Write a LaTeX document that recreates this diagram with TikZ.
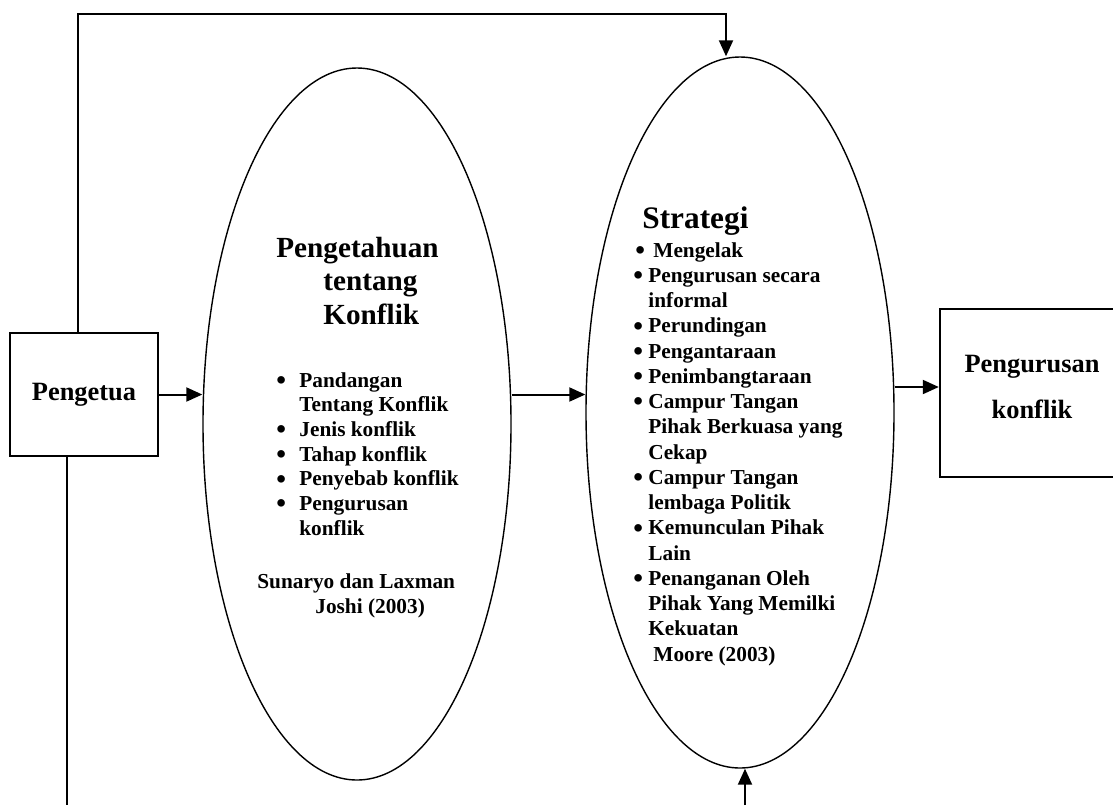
\documentclass[tikz,border=0pt]{standalone}
\usepackage{fontspec}
\usepackage{graphicx}
\setmainfont{Liberation Serif}
\usetikzlibrary{arrows.meta,positioning,calc,shapes.geometric}
\newcommand{\kfitem}[1][7.5pt]{\makebox[#1][l]{\raisebox{-1.2pt}{\scalebox{1.3}{\textbullet}}}}
\tikzset{
  kf/box/.style={
    draw=black,
    line width=1.2pt,
    fill=white,
    align=center,
    inner sep=0pt,
    font=\fontsize{13.2}{23}\selectfont\bfseries
  },
  kf/oval/.style={
    ellipse,
    draw=black,
    line width=0.7pt,
    inner sep=0pt,
    minimum width=154pt
  },
  kf/title/.style={inner sep=0pt, anchor=base west, font=\fontsize{14.6}{16.75}\selectfont\bfseries},
  kf/bigtitle/.style={inner sep=0pt, anchor=base west, font=\fontsize{15.65}{18}\selectfont\bfseries},
  kf/list/.style={inner sep=0pt, anchor=base west, font=\fontsize{10.65}{12.35}\selectfont\bfseries},
  kf/boxtext/.style={inner sep=0pt, anchor=base, font=\fontsize{13.2}{23}\selectfont\bfseries},
  kf/line/.style={line width=1pt, draw=black},
  kf/arrow/.style={-{Triangle[length=8pt,width=7pt]}, line width=1pt, draw=black}
}

\begin{document}
\begin{tikzpicture}[x=0.5pt,y=-0.5pt]
  \useasboundingbox (0,0) rectangle (1113,805);
  \node[kf/box, minimum width=74pt, minimum height=61.5pt] (pengetua) at (84,394.5) {Pengetua};
  \node[kf/oval, minimum height=356pt] (pengetahuan) at (357,424) {};
  \node[kf/oval, minimum height=355.5pt] (strategi) at (740,412.5) {};
  \node[kf/box, minimum width=91pt, minimum height=84pt] (pengurusan) at (1031,393) {};

  \node[kf/title] (pengetahuantitle) at (276,257) {\begin{tabular}[t]{@{}l@{}}
    Pengetahuan\\ \hspace*{23.5pt}tentang\\ \hspace*{23.5pt}Konflik\end{tabular}};
  \node[kf/list] (pengetahuanlist) at (276,387) {\begin{tabular}[t]{@{}l@{}}
    \kfitem[11.5pt]Pandangan\\
    \hspace*{11.5pt}Tentang Konflik\\
    \kfitem[11.5pt]Jenis konflik\\
    \kfitem[11.5pt]Tahap konflik\\
    \kfitem[11.5pt]Penyebab konflik\\
    \kfitem[11.5pt]Pengurusan\\
    \hspace*{11.5pt}konflik\end{tabular}};
  \node[kf/list, font=\fontsize{10.65}{12.5}\selectfont\bfseries] (pengetahuanref) at (257,588) {\begin{tabular}[t]{@{}l@{}}
    Sunaryo dan Laxman\\ \hspace*{29pt}Joshi (2003)\end{tabular}};

  \node[kf/bigtitle] (strategititle) at (642,228) {Strategi};
  \node[kf/list, font=\fontsize{10.65}{12.625}\selectfont\bfseries] (strategilist) at (633,257) {\begin{tabular}[t]{@{}l@{}}
    \hspace*{1pt}\kfitem[9pt]Mengelak\\
    \kfitem Pengurusan secara\\
    \hspace*{7.5pt}informal\\
    \kfitem Perundingan\\
    \kfitem Pengantaraan\\
    \kfitem Penimbangtaraan\\
    \kfitem Campur Tangan\\
    \hspace*{7.5pt}Pihak Berkuasa yang\\
    \hspace*{7.5pt}Cekap\\
    \kfitem Campur Tangan\\
    \hspace*{7.5pt}lembaga Politik\\
    \kfitem Kemunculan Pihak\\
    \hspace*{7.5pt}Lain\\
    \kfitem Penanganan Oleh\\
    \hspace*{7.5pt}Pihak Yang Memilki\\
    \hspace*{7.5pt}Kekuatan\\
    \hspace*{10pt}Moore (2003)\end{tabular}};

  \node[kf/boxtext] (pengurusantext) at (1032,372) {\begin{tabular}[t]{@{}c@{}}
    Pengurusan\\ konflik\end{tabular}};

  \coordinate (topcorner) at (78,14);
  \coordinate (bottomleft) at (67,805);
  \coordinate (bottomright) at (745,805);

  \draw[kf/arrow] (pengetua.east) -- (pengetua.east -| pengetahuan.west);
  \draw[kf/arrow] (pengetua.east -| pengetahuan.east) -- (pengetua.east -| strategi.west);
  \draw[kf/arrow] ([yshift=3pt]pengurusan.west -| strategi.east) -- ([yshift=3pt]pengurusan.west);
  \draw[kf/arrow] (pengetua.north -| topcorner) -- (topcorner) -| ([xshift=-7pt]strategi.north);
  \draw[kf/line] (pengetua.south -| bottomleft) -- (bottomleft);
  \draw[kf/arrow] (bottomright) -- (bottomright |- strategi.south);
\end{tikzpicture}
\end{document}
